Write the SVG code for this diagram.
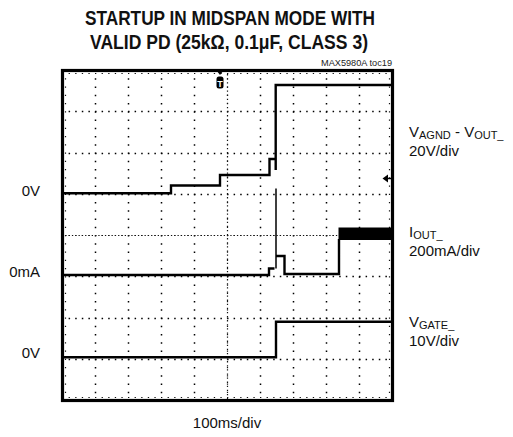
<svg xmlns="http://www.w3.org/2000/svg" width="513" height="437" viewBox="0 0 513 437">
<style>
.bg{fill:#fff}
.title{font-family:"Liberation Sans",Arial,sans-serif;font-weight:bold;font-size:20px;fill:#111;text-anchor:middle}
.lbl{font-family:"Liberation Sans",Arial,sans-serif;font-size:15px;fill:#111}
.sub{font-size:11px}
.small{font-family:"Liberation Sans",Arial,sans-serif;font-size:9px;fill:#222;text-anchor:end}
.hd{stroke:#000;stroke-width:1.5;stroke-dasharray:1.5 5.1;fill:none}
.vd{stroke:#000;stroke-width:1.5;stroke-dasharray:1.5 6.75;fill:none}
.tk{stroke:#111;stroke-width:1.2;fill:none}
.frame{fill:none;stroke:#000;stroke-width:3.2}
.trace{fill:none;stroke:#000;stroke-width:2.4;stroke-linejoin:miter}
.thin{fill:none;stroke:#000;stroke-width:1.5}
</style>
<rect class="bg" x="0" y="0" width="513" height="437"/>
<g id="title">
<text class="title" x="230" y="25" textLength="290" lengthAdjust="spacingAndGlyphs">STARTUP IN MIDSPAN MODE WITH</text>
<text class="title" x="229" y="49" textLength="278" lengthAdjust="spacingAndGlyphs">VALID PD (25kΩ, 0.1μF, CLASS 3)</text>
<text class="small" x="392" y="66" textLength="71" lengthAdjust="spacingAndGlyphs">MAX5980A toc19</text>
</g>
<g id="grid">
<line class="hd" x1="62" y1="111.5" x2="392.5" y2="111.5"/>
<line class="hd" x1="62" y1="153.5" x2="392.5" y2="153.5"/>
<line class="hd" x1="62" y1="194.5" x2="392.5" y2="194.5"/>
<line class="hd" x1="62" y1="276.5" x2="392.5" y2="276.5"/>
<line class="hd" x1="62" y1="318.5" x2="392.5" y2="318.5"/>
<line class="hd" x1="62" y1="359.5" x2="392.5" y2="359.5"/>
<line class="vd" x1="95.5" y1="70" x2="95.5" y2="400.5"/>
<line class="vd" x1="128.5" y1="70" x2="128.5" y2="400.5"/>
<line class="vd" x1="161.5" y1="70" x2="161.5" y2="400.5"/>
<line class="vd" x1="194.5" y1="70" x2="194.5" y2="400.5"/>
<line class="vd" x1="260.5" y1="70" x2="260.5" y2="400.5"/>
<line class="vd" x1="293.5" y1="70" x2="293.5" y2="400.5"/>
<line class="vd" x1="326.5" y1="70" x2="326.5" y2="400.5"/>
<line class="vd" x1="359.5" y1="70" x2="359.5" y2="400.5"/>
<!-- center lines -->
<line class="tk" x1="62" y1="235.5" x2="392.5" y2="235.5" stroke-dasharray="1.3 2"/>
<line class="tk" x1="62" y1="235.5" x2="392.5" y2="235.5" stroke-width="5" stroke-dasharray="1.2 5.4"/>
<line class="tk" x1="227.5" y1="70" x2="227.5" y2="400.5" stroke-dasharray="1.3 2.8"/>
<line class="tk" x1="227.5" y1="70" x2="227.5" y2="400.5" stroke-width="5" stroke-dasharray="1.2 7.05"/>
<!-- edge ticks -->
<line class="tk" x1="62" y1="73.5" x2="392.5" y2="73.5" stroke-width="2.5" stroke-dasharray="1.3 5.3"/>
<line class="tk" x1="62" y1="397.5" x2="392.5" y2="397.5" stroke-width="3" stroke-dasharray="1.3 5.3"/>
<line class="tk" x1="65.5" y1="70" x2="65.5" y2="400.5" stroke-width="2.5" stroke-dasharray="1.3 6.95"/>
<line class="tk" x1="389.5" y1="70" x2="389.5" y2="400.5" stroke-width="2.5" stroke-dasharray="1.3 6.95"/>
<rect class="frame" x="62.5" y="70.5" width="330" height="330"/>
</g>
<g id="markers">
<polygon points="216.5,70.5 223.5,70.5 220,75" fill="#000"/>
<rect x="216.5" y="76.5" width="7" height="12" rx="2.5" fill="#000"/>
<text x="220" y="86.5" font-family="Liberation Sans,Arial,sans-serif" font-weight="bold" font-size="9" fill="#fff" text-anchor="middle">T</text>
<polygon points="382.5,178.5 388,174.5 388,182.5" fill="#000"/>
<line x1="387" y1="178.5" x2="391" y2="178.5" stroke="#000" stroke-width="1.5"/>
</g>
<g id="traces">
<path id="trace-v" class="trace" d="M62.5,193.3 H171 V185.5 H220 V175 H269.5 V159 H275.7 V170 V85 H392"/>
<path id="trace-i" class="trace" d="M62.5,275 H269 V268.5 H274.5"/>
<path class="thin" d="M276,268.5 V188.5 V256"/>
<path class="trace" d="M276,256 H284.5 V274 H339 V239"/>
<rect x="338.5" y="227.5" width="53" height="12.5" fill="#000"/>
<path id="trace-gate" class="trace" d="M62.5,357.3 H276 V321.7 H392"/>
</g>
<g id="labels">
<text class="lbl" x="40" y="196" text-anchor="end">0V</text>
<text class="lbl" x="40" y="277" text-anchor="end">0mA</text>
<text class="lbl" x="40" y="358" text-anchor="end">0V</text>
<text class="lbl" x="409" y="137">V<tspan class="sub" dy="2">AGND</tspan><tspan dy="-2"> - V</tspan><tspan class="sub" dy="2">OUT_</tspan></text>
<text class="lbl" x="409" y="156">20V/div</text>
<text class="lbl" x="409" y="237">I<tspan class="sub" dy="2">OUT_</tspan></text>
<text class="lbl" x="409" y="256">200mA/div</text>
<text class="lbl" x="409" y="327">V<tspan class="sub" dy="2">GATE_</tspan></text>
<text class="lbl" x="409" y="346">10V/div</text>
<text class="lbl" x="227" y="428" text-anchor="middle">100ms/div</text>
</g>
</svg>
